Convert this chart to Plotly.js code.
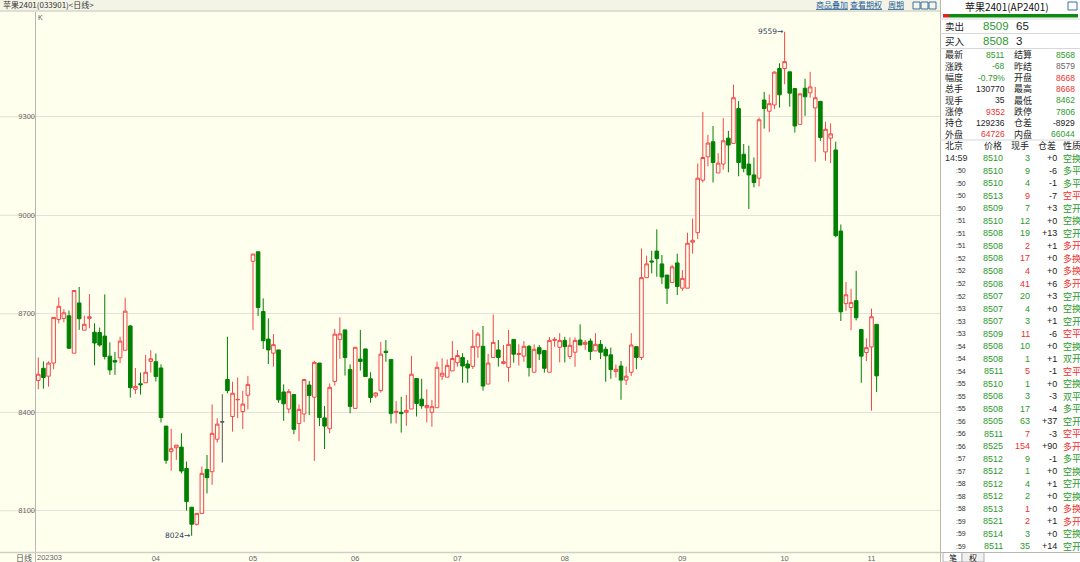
<!DOCTYPE html>
<html><head><meta charset="utf-8">
<script src="https://cdn.plot.ly/plotly-3.0.1.min.js"></script>
<style>html,body{margin:0;padding:0;background:#FFFFEE;overflow:hidden}#chart{width:1080px;height:562px}</style>
</head><body><div id="chart"></div>
<script>
// ---------------- data ----------------
const monthLabels = ['202303','04','05','06','07','08','09','10','11'];
const monthDays   = [23,19,20,20,21,23,20,17,2];

const opens = [8497,8534,8510,8550,8683,8686,8694,8580,8733,8650,8686,8644,8643,8632,8571,8558,8566,8589,8663,8470,8487,8490,8555,
8554,8535,8358,8280,8292,8294,8229,8111,8059,8092,8226,8219,8318,8371,8500,8387,8438,8402,8452,
8860,8889,8707,8623,8580,8590,8462,8410,8454,8366,8395,8483,8446,8550,8383,8350,8494,8622,8651,8530,
8412,8562,8593,8502,8450,8466,8586,8561,8399,8400,8400,8410,8503,8440,8414,8400,8414,8510,8507,8526,
8551,8567,8547,8540,8599,8601,8486,8567,8590,8549,8537,8622,8576,8571,8601,8522,8597,8588,8522,8619,8598,
8619,8570,8583,8620,8607,8617,8587,8607,8592,8575,8524,8541,8498,8522,8600,8567,8810,8861,8891,8852,8818,8795,8855,
8778,8778,8918,8947,9107,9178,9224,9129,9156,9235,9219,9325,9186,9156,9123,9113,9351,9317,9336,9447,
9447,9437,9386,9277,9387,9373,9327,9347,9193,9235,9199,8952,8731,8719,8740,8652,8582,
8599,8668];
const highs = [8567,8555,8555,8689,8750,8714,8710,8771,8782,8695,8760,8671,8658,8759,8613,8584,8630,8749,8666,8535,8521,8575,8589,
8579,8546,8358,8350,8300,8336,8250,8111,8092,8235,8270,8424,8382,8455,8630,8493,8506,8466,8511,
8882,8889,8747,8686,8638,8590,8485,8471,8454,8424,8500,8495,8557,8550,8419,8488,8654,8689,8651,8546,
8598,8651,8593,8522,8461,8614,8620,8561,8434,8447,8453,8572,8503,8502,8470,8438,8554,8564,8561,8617,
8590,8580,8559,8651,8644,8663,8578,8698,8620,8605,8651,8622,8607,8617,8605,8607,8605,8588,8629,8629,8641,
8630,8628,8628,8668,8620,8625,8641,8620,8600,8597,8546,8556,8539,8641,8600,8899,8877,8892,8957,8879,8818,8849,8883,
8833,8947,8990,9158,9315,9245,9272,9189,9296,9257,9398,9348,9217,9212,9176,9298,9376,9368,9439,9463,
9559,9437,9386,9370,9416,9437,9391,9347,9285,9280,9224,8972,8797,8776,8831,8652,8625,
8716,8668];
const lows = [8470,8472,8478,8531,8671,8674,8593,8580,8651,8650,8656,8543,8600,8561,8514,8514,8550,8589,8445,8456,8454,8490,8521,
8494,8369,8243,8222,8255,8214,8101,8024,8055,8092,8153,8179,8308,8247,8458,8341,8382,8349,8409,
8651,8693,8593,8547,8539,8429,8374,8397,8333,8312,8370,8392,8252,8358,8288,8336,8481,8563,8512,8397,
8412,8527,8509,8429,8444,8460,8554,8366,8366,8338,8359,8410,8387,8411,8369,8356,8414,8498,8507,8526,
8539,8490,8490,8532,8566,8466,8486,8567,8539,8546,8493,8551,8542,8554,8509,8522,8559,8521,8522,8600,8552,
8552,8562,8539,8605,8590,8559,8587,8562,8493,8502,8506,8438,8483,8511,8531,8559,8810,8823,8813,8791,8730,8795,8757,
8770,8778,8883,8928,9100,9149,9100,9129,9139,9131,9219,9119,9131,9019,9085,9088,9264,9254,9323,9328,
9399,9331,9252,9277,9303,9358,9163,9227,9166,9159,8933,8678,8709,8650,8680,8490,8556,
8405,8462];
const closes = [8516,8506,8550,8689,8723,8703,8595,8771,8685,8668,8691,8611,8605,8570,8529,8553,8617,8708,8475,8479,8484,8522,8563,
8509,8384,8254,8289,8300,8221,8128,8059,8092,8214,8201,8336,8364,8371,8466,8458,8439,8425,8485,
8882,8719,8618,8590,8606,8438,8426,8463,8348,8409,8500,8451,8552,8384,8358,8476,8638,8639,8567,8418,
8598,8555,8509,8445,8459,8577,8582,8396,8403,8396,8406,8516,8427,8420,8421,8417,8537,8519,8543,8564,
8573,8541,8535,8601,8638,8480,8550,8613,8567,8554,8607,8577,8579,8601,8536,8592,8578,8534,8619,8622,8619,
8600,8604,8619,8605,8613,8585,8607,8583,8572,8530,8531,8498,8510,8605,8567,8810,8852,8858,8868,8812,8778,8843,8783,
8808,8915,8924,9113,9176,9220,9161,9159,9227,9214,9358,9161,9143,9123,9100,9291,9325,9340,9436,9367,
9468,9372,9272,9370,9361,9391,9358,9237,9262,9248,8938,8706,8758,8734,8688,8571,8597,
8691,8511];

const yTicks = [8100,8400,8700,9000,9300];

// right panel data
const contractName = '苹果2401(AP2401)';
const askLabel = '卖出', askPrice = '8509', askVol = '65';
const bidLabel = '买入', bidPrice = '8508', bidVol = '3';
const quoteLabelsL = ['最新','涨跌','幅度','总手','现手','涨停','持仓','外盘'];
const quoteValuesL = ['8511','-68','-0.79%','130770','35','9352','129236','64726'];
const quoteLabelsR = ['结算','昨结','开盘','最高','最低','跌停','仓差','内盘'];
const quoteValuesR = ['8568','8579','8668','8668','8462','7806','-8929','66044'];
const tradeHeaders = ['北京','价格','现手','仓差','性质'];
const tradeTimes  = ['14:59',':50',':50',':50',':50',':51',':51',':51',':52',':52',':52',':52',':53',':53',':53',':54',':54',':54',':55',':55',':55',':56',':56',':56',':57',':57',':58',':58',':58',':59',':59',':59'];
const tradePrices = [8510,8510,8510,8513,8509,8510,8508,8508,8508,8508,8508,8507,8507,8507,8509,8508,8508,8511,8510,8508,8508,8505,8511,8525,8512,8512,8512,8512,8513,8521,8514,8511];
const tradeVols   = [3,9,4,9,7,12,19,2,17,4,41,20,4,3,11,10,1,5,1,3,17,63,7,154,9,1,4,2,1,2,3,35];
const tradeOI     = ['+0','-6','-1','-7','+3','+0','+13','+1','+0','+0','+6','+3','+0','+1','-6','+0','+1','-1','+0','-3','-4','+37','-3','+90','-1','+0','+1','+0','+0','+1','+0','+14'];
const tradeTypes  = ['空换','多平','多平','空平','空开','空换','空开','多开','多换','多换','多开','空开','空换','空开','空平','空换','双开','空平','空换','双平','多平','空开','空平','多开','多平','空换','空开','空换','多换','多开','空换','空开'];

// ---------------- styles ----------------
const RED = '#F24848', GREEN = '#008000', BG = '#FFFFEE';
const TGREEN = '#2E9A2E', TRED = '#EE3030', TBLACK = '#222222', TGRAY = '#666666';
const quoteColorsL = [TGREEN,TGREEN,TGREEN,TBLACK,TBLACK,TRED,TBLACK,TRED];
const quoteColorsR = [TGREEN,TGRAY,TRED,TRED,TGREEN,TGREEN,TBLACK,TGREEN];
const redTypes = ['多开','多换','空平'];
const CJK = 'Noto Sans CJK SC, sans-serif';
const NUM = 'Liberation Sans, Noto Sans CJK SC, sans-serif';

const W = 1080, H = 562, ML = 36, MR = 140, MT = 12, MB = 10;
const PW = W - ML - MR, PH = H - MT - MB;
const px = x => (x - ML) / PW;
const py = y => (H - MB - y) / PH;

// ---------------- traces ----------------
const idx = opens.map((_, i) => i);
const mainI = idx.filter(i => opens[i] !== closes[i]);
const dojiI = idx.filter(i => opens[i] === closes[i]);
const pick = (arr, sel) => sel.map(i => arr[i]);

const traces = [{
  type: 'candlestick', x: mainI, open: pick(opens, mainI), high: pick(highs, mainI),
  low: pick(lows, mainI), close: pick(closes, mainI),
  increasing: {line: {color: RED, width: 1}, fillcolor: BG},
  decreasing: {line: {color: GREEN, width: 1}, fillcolor: GREEN},
  whiskerwidth: 0, hoverinfo: 'skip', showlegend: false
}, {
  type: 'candlestick', x: dojiI, open: pick(opens, dojiI), high: pick(highs, dojiI),
  low: pick(lows, dojiI), close: pick(closes, dojiI),
  increasing: {line: {color: '#555555', width: 1}, fillcolor: '#555555'},
  decreasing: {line: {color: '#555555', width: 1}, fillcolor: '#555555'},
  whiskerwidth: 0, hoverinfo: 'skip', showlegend: false
}];

// month start positions
const monthStarts = [];
monthDays.reduce((acc, d) => { monthStarts.push(acc); return acc + d; }, 0);

// ---------------- annotations & shapes ----------------
const ann = [];
const shp = [];
function t(x, y, text, size, color, anchor, family) {
  ann.push({xref: 'paper', yref: 'paper', x: px(x), y: py(y), text: text, showarrow: false,
    xanchor: anchor || 'left', yanchor: 'middle', borderpad: 0,
    font: {size: size, color: color, family: family || CJK}});
}
function hline(x0, x1, y, color, w) {
  shp.push({type: 'line', xref: 'paper', yref: 'paper', x0: px(x0), x1: px(x1), y0: py(y), y1: py(y),
    line: {color: color, width: w || 1}});
}
function vline(x, y0, y1, color, w) {
  shp.push({type: 'line', xref: 'paper', yref: 'paper', x0: px(x), x1: px(x), y0: py(y0), y1: py(y1),
    line: {color: color, width: w || 1}});
}
function rect(x0, y0, x1, y1, fill, lineColor, layer) {
  shp.push({type: 'rect', xref: 'paper', yref: 'paper', x0: px(x0), x1: px(x1), y0: py(y1), y1: py(y0),
    fillcolor: fill, line: {color: lineColor || 'rgba(0,0,0,0)', width: lineColor ? 1 : 0}, layer: layer || 'above'});
}

// header bar of the chart
rect(0, 0, 940, 10.5, '#F4F4E6', null, 'below');
hline(0, 940, 11, '#D6D6C8', 1.5);
t(2, 5, '苹果2401(033901)<日线>', 8, '#333333', 'left', CJK);
t(815, 5, '<span style="text-decoration:underline">商品叠加</span>', 8, '#1E5C9A', 'left', CJK);
t(849, 5, '<span style="text-decoration:underline">查看期权</span>', 8, '#1E5C9A', 'left', CJK);
t(887, 5, '<span style="text-decoration:underline">周期</span>', 8, '#1E5C9A', 'left', CJK);
rect(913, 2, 920, 9, 'rgba(0,0,0,0)', '#3A6EA5');
rect(921, 2, 928, 9, 'rgba(0,0,0,0)', '#3A6EA5');
rect(929, 2, 936, 9, 'rgba(0,0,0,0)', '#3A6EA5');
t(36.5, 17, 'K', 7, '#555555', 'left', NUM);

// axis frame lines
vline(35.5, 12, 562, '#B8B8B0', 1);
hline(0, 940, 552.5, '#CFCFC6', 1.5);
// gridline extensions into the label column
yTicks.forEach(v => shp.push({type: 'line', xref: 'paper', yref: 'y', x0: px(0), x1: 0, y0: v, y1: v,
  line: {color: '#E2E2D8', width: 1}, layer: 'below'}));

// first month label and bottom-left label
ann.push({xref: 'paper', yref: 'paper', x: px(36), y: py(557.5), text: monthLabels[0], showarrow: false,
  xanchor: 'left', yanchor: 'middle', borderpad: 0, font: {size: 7.5, color: '#666666', family: NUM}});
t(33, 557.5, '日线', 8, '#555555', 'right', CJK);

// extreme labels
const maxH = Math.max(...highs), maxI = highs.indexOf(maxH);
const minL = Math.min(...lows), minI = lows.indexOf(minL);
ann.push({xref: 'x', yref: 'y', x: maxI, y: maxH, text: maxH + '→', showarrow: false, xanchor: 'right',
  yanchor: 'middle', xshift: -0.5, borderpad: 0, font: {size: 7.5, color: '#33445A', family: 'DejaVu Sans, sans-serif'}});
ann.push({xref: 'x', yref: 'y', x: minI, y: minL, text: minL + '→', showarrow: false, xanchor: 'right',
  yanchor: 'middle', xshift: -0.5, borderpad: 0, font: {size: 7.5, color: '#33445A', family: 'DejaVu Sans, sans-serif'}});

// ---------------- right panel ----------------
rect(940, 0, 1080, 562, '#FFFFFF', null, 'below');
vline(940.5, 0, 562, '#B8B8B0', 1);
t(1007, 7, contractName, 10, '#111111', 'center', CJK);
rect(1068, 2, 1077, 10, 'rgba(0,0,0,0)', '#3A6EA5');
rect(943, 14, 949, 17.5, '#E82020', null, 'above');
rect(949, 14, 1078, 17.5, '#108A10', null, 'above');
hline(940, 1080, 19, '#D8D8D8', 1);
t(944, 25.5, askLabel, 9.5, TBLACK, 'left', CJK);
t(982, 25.5, askPrice, 11.5, TGREEN, 'left', NUM);
t(1015, 25.5, askVol, 11.5, TBLACK, 'left', NUM);
hline(940, 1080, 33.5, '#D8D8D8', 1);
t(944, 41, bidLabel, 9.5, TBLACK, 'left', CJK);
t(982, 41, bidPrice, 11.5, TGREEN, 'left', NUM);
t(1015, 41, bidVol, 11.5, TBLACK, 'left', NUM);
hline(940, 1080, 48.5, '#D8D8D8', 1);

quoteLabelsL.forEach((lab, i) => {
  const y = 55 + i * 11.33;
  t(944, y, lab, 9, TBLACK, 'left', CJK);
  t(1006, y, quoteValuesL[i], 8.5, quoteColorsL[i], 'right', NUM);
  t(1013, y, quoteLabelsR[i], 9, TBLACK, 'left', CJK);
  t(1076, y, quoteValuesR[i], 8.5, quoteColorsR[i], 'right', NUM);
});
hline(940, 1080, 140, '#D8D8D8', 1);

const hdrX = [944, 1003, 1030, 1057, 1062];
const hdrA = ['left', 'right', 'right', 'right', 'left'];
tradeHeaders.forEach((h, i) => t(hdrX[i], 145.5, h, 9, TBLACK, hdrA[i], CJK));

tradeTimes.forEach((tm, i) => {
  const y = 158.3 + i * 12.52;
  const c = redTypes.includes(tradeTypes[i]) ? TRED : TGREEN;
  if (tm.length > 3) t(944, y, tm, 9, '#333333', 'left', NUM);
  else t(955, y, tm, 7, '#333333', 'left', NUM);
  t(1004, y, String(tradePrices[i]), 9, TGREEN, 'right', NUM);
  t(1031, y, String(tradeVols[i]), 9, c, 'right', NUM);
  t(1058, y, tradeOI[i], 9, TBLACK, 'right', NUM);
  t(1062, y, tradeTypes[i], 9, c, 'left', CJK);
});
// bottom tabs
hline(940, 1080, 552.5, '#B8B8B0', 1);
rect(943, 552.5, 962, 562, '#FFFFFF', '#B0B0B0');
rect(962, 552.5, 984, 562, '#F0F0F0', '#B0B0B0');
t(952.5, 557.5, '笔', 8, TBLACK, 'center', CJK);
t(973, 557.5, '权', 8, TBLACK, 'center', CJK);

// ---------------- layout ----------------
const layout = {
  width: W, height: H,
  margin: {l: ML, r: MR, t: MT, b: MB, pad: 0},
  paper_bgcolor: BG, plot_bgcolor: BG,
  showlegend: false,
  boxgap: 0.3, boxgroupgap: 0,
  xaxis: {
    range: [-0.45, 176.4], rangeslider: {visible: false}, showgrid: false, zeroline: false,
    showline: false, tickmode: 'array', tickvals: monthStarts.slice(1), ticktext: monthLabels.slice(1),
    ticks: '', tickfont: {size: 7.5, color: '#666666', family: NUM}, fixedrange: true
  },
  yaxis: {
    range: [7974.5, 9619.2], showgrid: true, gridcolor: '#E2E2D8', gridwidth: 1, zeroline: false,
    showline: false, tickmode: 'array', tickvals: yTicks, ticks: '',
    tickfont: {size: 7.5, color: '#666666', family: NUM}, fixedrange: true
  },
  annotations: ann,
  shapes: shp
};

Plotly.newPlot('chart', traces, layout, {displayModeBar: false, staticPlot: true});
</script>
</body></html>
